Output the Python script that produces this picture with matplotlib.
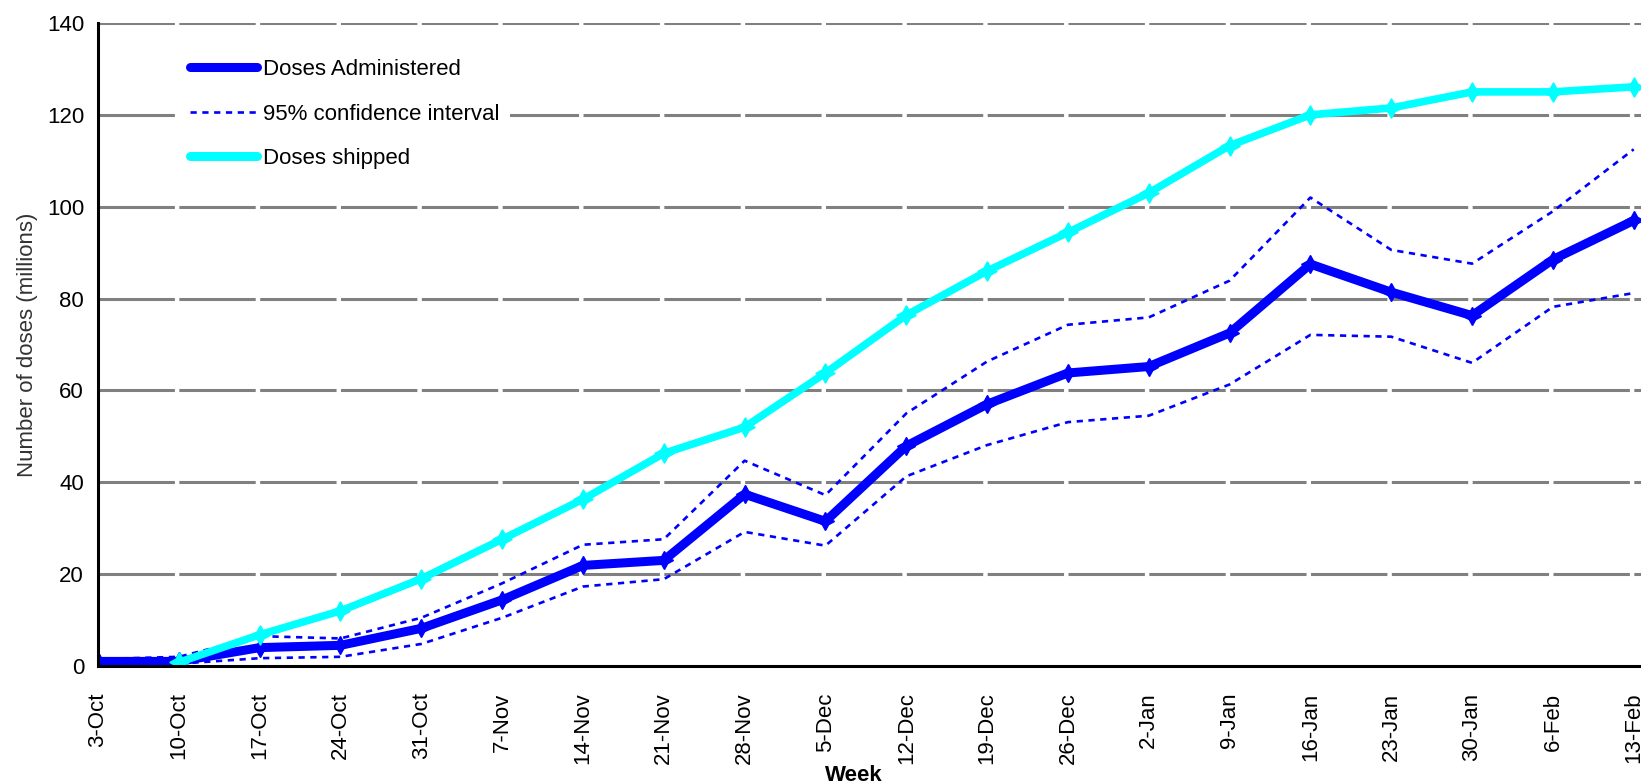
import matplotlib
matplotlib.use('Agg')
import matplotlib.pyplot as plt
from matplotlib.lines import Line2D
import numpy as np

plt.rcParams['font.family'] = ['Liberation Sans', 'DejaVu Sans']
plt.rcParams['lines.scale_dashes'] = False

weeks = ['3-Oct', '10-Oct', '17-Oct', '24-Oct', '31-Oct', '7-Nov', '14-Nov', '21-Nov',
         '28-Nov', '5-Dec', '12-Dec', '19-Dec', '26-Dec', '2-Jan', '9-Jan', '16-Jan',
         '23-Jan', '30-Jan', '6-Feb', '13-Feb']
administered = [1, 1, 4, 4.5, 8.2, 14.4, 21.9, 23, 37.4, 31.5, 47.9, 57, 63.8, 65.2,
                72.5, 87.5, 81.4, 76.3, 88.5, 97]
ci_upper = [1.5, 2, 6.5, 6, 10.5, 18, 26.4, 27.6, 44.7, 37.2, 55, 66.3, 74.3, 75.9,
            83.9, 102, 90.6, 87.6, 99, 112.5]
ci_lower = [0.5, 0.5, 1.7, 2, 4.8, 10.5, 17.3, 18.9, 29.2, 26.2, 41.3, 48.1, 53.1, 54.5,
            61.3, 72.1, 71.7, 66, 78.2, 81.2]
shipped = [np.nan, 0.8, 6.8, 12, 19, 27.6, 36.3, 46.3, 52, 63.8, 76.4, 86, 94.4, 103,
           113.3, 120, 121.5, 125, 125, 126.1]

fig = plt.figure(figsize=(16.41, 7.84), dpi=100)
ax = fig.add_axes([98/1641, 1-666/784, 1-98/1641, (666-23)/784])
x = np.arange(len(weeks))

# dashed gray horizontal grid
for yv in range(20, 141, 20):
    ax.axhline(yv, color='#808080', lw=2.2, dashes=(55, 3.2), zorder=1)

star = (4, 1, 0)
ax.plot(x, ci_upper, color='#0000ff', lw=1.9, dashes=(4.5, 4), zorder=3)
ax.plot(x, ci_lower, color='#0000ff', lw=1.9, dashes=(4.5, 4), zorder=3)
ax.plot(x, administered, color='#0000ff', lw=6.5, marker=star, ms=13,
        solid_joinstyle='miter', zorder=4)
ax.plot(x, shipped, color='#00ffff', lw=5.5, marker=star, ms=14,
        solid_joinstyle='miter', zorder=5)

ax.set_xlim(0, 19.09)
ax.set_ylim(0, 140)
ax.set_yticks(range(0, 141, 20))
ax.set_xticks(x)
ax.set_xticklabels(weeks, rotation=90)
ax.tick_params(axis='both', length=0, labelsize=16)
ax.tick_params(axis='y', pad=10)
ax.tick_params(axis='x', pad=19)

for s in ['top', 'right']:
    ax.spines[s].set_visible(False)
for s in ['left', 'bottom']:
    ax.spines[s].set_linewidth(2.2)
    ax.spines[s].set_zorder(6)

ax.set_ylabel('Number of doses (millions)', fontsize=16, color='#333333')
ax.yaxis.set_label_coords(-0.039, 0.5)
fig.text(0.52, 1-765/784, 'Week', fontsize=16, fontweight='bold', ha='center', va='top')

handles = [
    Line2D([], [], color='#0000ff', lw=6.5, solid_capstyle='round'),
    Line2D([], [], color='#0000ff', lw=1.9, dashes=(4.5, 4)),
    Line2D([], [], color='#00ffff', lw=6.5, solid_capstyle='round'),
]
labels = ['Doses Administered', '95% confidence interval', 'Doses shipped']
leg = ax.legend(handles, labels, loc='upper left', bbox_to_anchor=(0.0525, 0.961),
                fontsize=16, frameon=True, facecolor='white', edgecolor='none',
                framealpha=1, fancybox=False, borderaxespad=0, borderpad=0.5,
                handlelength=3.0, handletextpad=0.27, labelspacing=1.05)
leg.set_zorder(10)

fig.savefig('out.png', dpi=100)
